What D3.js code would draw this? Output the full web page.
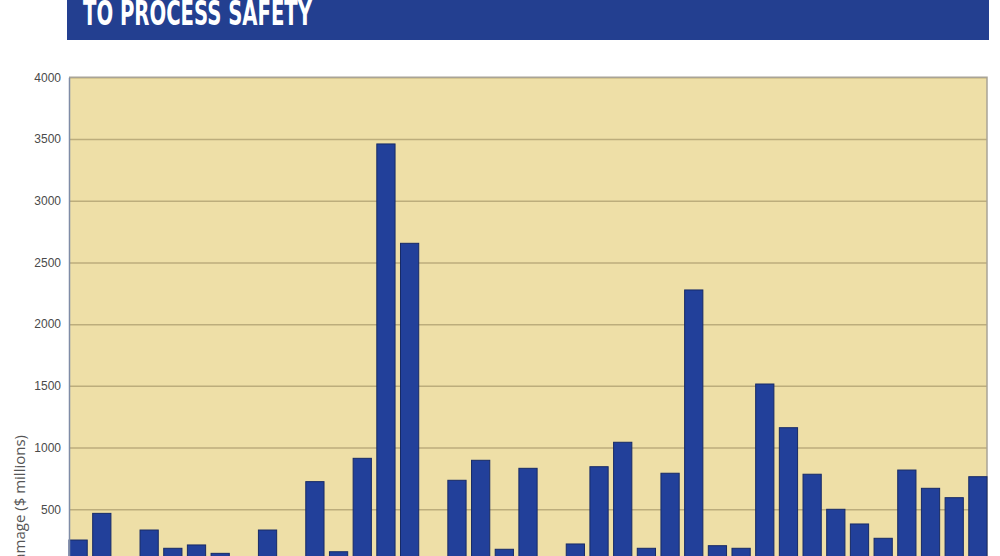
<!DOCTYPE html>
<html>
<head>
<meta charset="utf-8">
<script src="https://cdn.jsdelivr.net/npm/d3@7/dist/d3.min.js"></script>
<style>
  body { margin: 0; background: #fff; }
  svg { display: block; overflow: hidden; }
</style>
</head>
<body>
<div id="chart-area"></div>
<script>
// one bar per incident, in the order shown (x labels are below the visible crop)
let incidents = d3.range(1, 40).map(i => 'Incident ' + i);
let damage = [251, 467, 60, 332, 184, 211, 143, 60, 332, 60,
              724, 156, 913, 3460, 2655, 60, 735, 897, 176, 832,
              60, 219, 845, 1043, 184, 792, 2277, 205, 184, 1515,
              1161, 784, 500, 381, 265, 818, 670, 594, 764];
// the 0 line sits below the visible crop, so only these are labelled
let yTicks = [500, 1000, 1500, 2000, 2500, 3000, 3500, 4000];
let titleText = 'TO PROCESS SAFETY';
let yLabel = 'Property damage ($ millions)';

let margin = { left: 69, right: 13, top: 77.3, bottom: -15 };
let width = 1000 - margin.left - margin.right;
let height = 556 - margin.top - margin.bottom;

let svg = d3.select('#chart-area').append('svg')
  .attr('width', 1000)
  .attr('height', 556);

// title banner
svg.append('rect')
  .attr('x', 67)
  .attr('y', -6)
  .attr('width', 922)
  .attr('height', 46)
  .attr('fill', '#233f90');

svg.append('text')
  .attr('x', 83)
  .attr('y', 25)
  .attr('fill', '#fff')
  .attr('font-family', '"Liberation Sans Narrow", "DejaVu Sans Condensed", sans-serif')
  .attr('font-weight', 'bold')
  .attr('font-size', 33)
  .attr('textLength', 229)
  .attr('lengthAdjust', 'spacingAndGlyphs')
  .text(titleText);

let g = svg.append('g')
  .attr('transform', `translate(${margin.left}, ${margin.top})`);

let x = d3.scaleBand()
  .domain(incidents)
  .range([0, width])
  .paddingInner(0.23)
  .paddingOuter(0);

let y = d3.scaleLinear()
  .domain([0, 4000])
  .range([height, 0]);

g.append('rect')
  .attr('width', width)
  .attr('height', height)
  .attr('fill', '#eedfa7');

// gridlines
g.append('g')
  .attr('class', 'grid')
  .call(d3.axisLeft(y).tickValues(yTicks).tickSize(-width).tickFormat(''))
  .call(ax => ax.select('.domain').remove())
  .selectAll('line')
    .attr('stroke', '#bcad7c')
    .attr('stroke-width', 1.5);

// top and right frame
g.append('path')
  .attr('d', `M0,0H${width}V${height}`)
  .attr('fill', 'none')
  .attr('stroke', '#a9a496')
  .attr('stroke-width', 1.5);

g.selectAll('.bar')
  .data(damage)
  .enter()
  .append('rect')
  .attr('class', 'bar')
  .attr('x', (d, i) => x(incidents[i]))
  .attr('y', d => y(d))
  .attr('width', x.bandwidth())
  .attr('height', d => height - y(d))
  .attr('fill', '#22409a')
  .attr('stroke', '#172a66')
  .attr('stroke-width', 1);

let leftAxis = d3.axisLeft(y)
  .tickValues(yTicks)
  .tickFormat(d3.format('d'))
  .tickSize(0)
  .tickPadding(8);
g.append('g')
  .attr('class', 'left-axis')
  .call(leftAxis)
  .call(ax => ax.select('.domain').attr('stroke', '#7f8ca6').attr('stroke-width', 1.5))
  .selectAll('text')
    .attr('fill', '#4a4a4a')
    .attr('font-family', '"Liberation Sans", Arial, sans-serif')
    .attr('font-size', 12);

svg.append('text')
  .attr('transform', 'translate(25, 435) rotate(-90)')
  .attr('text-anchor', 'end')
  .attr('fill', '#555')
  .attr('font-family', '"Open Sans", "Liberation Sans", sans-serif')
  .attr('font-size', 15)
  .text(yLabel);
</script>
</body>
</html>
